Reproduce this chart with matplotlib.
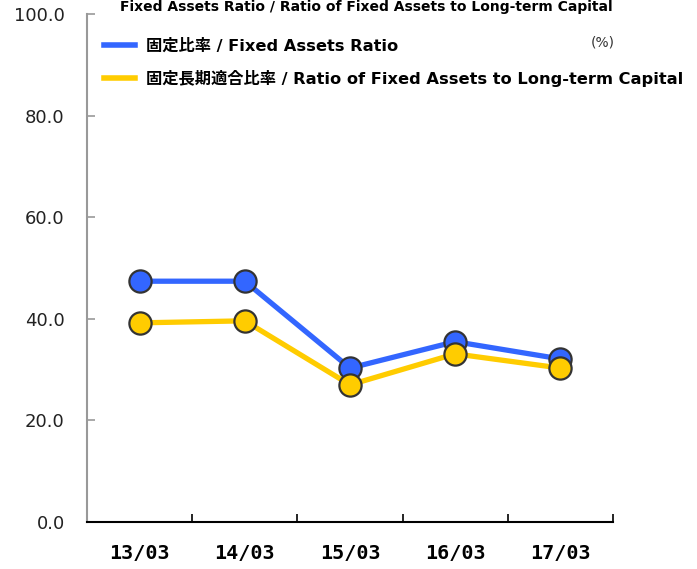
import matplotlib.pyplot as plt

# データ
years = ['13/03', '14/03', '15/03', '16/03', '17/03']
fixed_assets_ratio = [47.4, 47.4, 30.3, 35.5, 32.1]
fixed_long_term_ratio = [39.2, 39.6, 27.0, 33.1, 30.3]

label_blue = '固定比率 / Fixed Assets Ratio'
label_yellow = '固定長期適合比率 / Ratio of Fixed Assets to Long-term Capital'
title = 'Fixed Assets Ratio / Ratio of Fixed Assets to Long-term Capital'

plt.rcParams['font.family'] = ['DejaVu Sans', 'Noto Sans CJK JP']

fig = plt.figure(figsize=(6.97, 5.69), dpi=100)
ax = fig.add_axes([0.1248, 0.0826, 0.7547, 0.8928])

x = list(range(len(years)))
marker_style = dict(marker='o', markersize=16, markeredgecolor='#333333',
                    markeredgewidth=1.6, linewidth=3.8, solid_joinstyle='round')
ax.plot(x, fixed_assets_ratio, color='#3366FF', label=label_blue, zorder=3, **marker_style)
ax.plot(x, fixed_long_term_ratio, color='#FFCC00', label=label_yellow, zorder=4, **marker_style)

ax.set_xlim(-0.5, len(years) - 0.5)
ax.set_ylim(0, 100)
ax.set_yticks([0, 20, 40, 60, 80, 100])
ax.set_yticklabels([f'{v:.1f}' for v in [0, 20, 40, 60, 80, 100]], fontsize=13, color='#222222')
ax.set_xticks(x)
ax.set_xticklabels(years, fontsize=14.5, fontweight='bold', family='DejaVu Sans Mono')
ax.set_xticks([i - 0.5 for i in range(len(years) + 1)], minor=True)

ax.tick_params(axis='y', direction='in', length=6, width=1.2, color='#999999', pad=16)
ax.tick_params(axis='x', which='major', length=0, pad=16)
ax.tick_params(axis='x', which='minor', direction='in', length=6, width=1.2, color='black')

for s in ['top', 'right']:
    ax.spines[s].set_visible(False)
ax.spines['left'].set_color('#999999')
ax.spines['left'].set_linewidth(1.5)
ax.spines['bottom'].set_color('black')
ax.spines['bottom'].set_linewidth(1.5)

leg = ax.legend(loc='upper left', bbox_to_anchor=(0.005, 0.981), frameon=False,
                handlelength=1.9, handletextpad=0.7, labelspacing=1.0,
                prop={'weight': 'bold', 'size': 11.7}, markerscale=0)
for h in leg.legend_handles:
    h.set_marker('')
    h.set_linewidth(4)

fig.text(0.525, 1.0, title, ha='center', va='top', fontsize=10, fontweight='bold')
ax.text(1.004, 0.943, '(%)', transform=ax.transAxes, ha='right', va='center', fontsize=10, color='#333333')

fig.savefig('out.png', dpi=100)
